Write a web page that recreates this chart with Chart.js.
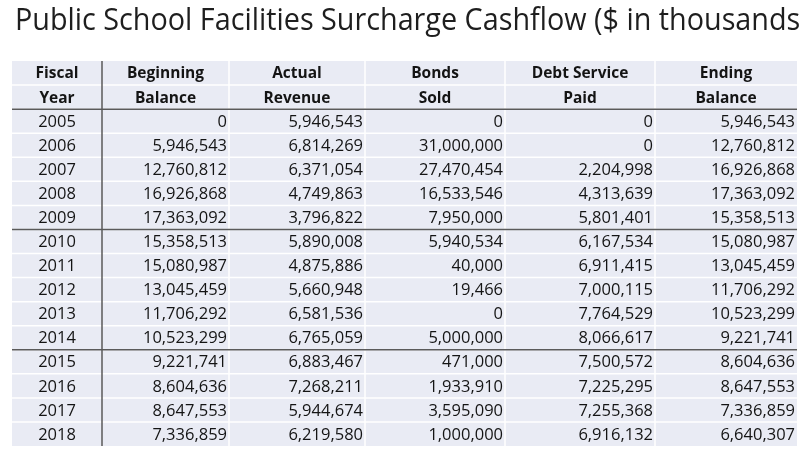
<!DOCTYPE html>
<html>
<head>
<meta charset="utf-8">
<script src="https://cdn.jsdelivr.net/npm/chart.js@4.4.1/dist/chart.umd.min.js"></script>
<style>
  html, body { margin: 0; padding: 0; background: #fff; }
  #wrap { width: 800px; height: 450px; }
</style>
</head>
<body>
<div id="wrap"><canvas id="cashflow"></canvas></div>
<script>
const TITLE = 'Public School Facilities Surcharge Cashflow ($ in thousands)';

const headerTop = ['Fiscal', 'Beginning', 'Actual', 'Bonds', 'Debt Service', 'Ending'];
const headerBottom = ['Year', 'Balance', 'Revenue', 'Sold', 'Paid', 'Balance'];

const years = ['2005', '2006', '2007', '2008', '2009', '2010', '2011', '2012', '2013', '2014', '2015', '2016', '2017', '2018'];
const beginningBalance = [0, 5946543, 12760812, 16926868, 17363092, 15358513, 15080987, 13045459, 11706292, 10523299, 9221741, 8604636, 8647553, 7336859];
const actualRevenue = [5946543, 6814269, 6371054, 4749863, 3796822, 5890008, 4875886, 5660948, 6581536, 6765059, 6883467, 7268211, 5944674, 6219580];
const bondsSold = [0, 31000000, 27470454, 16533546, 7950000, 5940534, 40000, 19466, 0, 5000000, 471000, 1933910, 3595090, 1000000];
const debtServicePaid = [0, 0, 2204998, 4313639, 5801401, 6167534, 6911415, 7000115, 7764529, 8066617, 7500572, 7225295, 7255368, 6916132];
const endingBalance = [5946543, 12760812, 16926868, 17363092, 15358513, 15080987, 13045459, 11706292, 10523299, 9221741, 8604636, 8647553, 7336859, 6640307];

// rows after which a dark rule is drawn
const ruleAfter = ['2009', '2014'];

// layout (table units along x, 0 = left edge of table)
const COL_EDGES = [0, 90, 217, 353, 493, 643, 785];
const CELL_BG = '#e9ebf4';
const TEXT = '#141414';
const RULE = '#5a5a5a';
const FONT = '"Open Sans", "Noto Sans", sans-serif';

const columns = [years, beginningBalance, actualRevenue, bondsSold, debtServicePaid, endingBalance];
const rowLabels = ['head1', 'head2'].concat(years);

const fmt = v => Number(v).toLocaleString('en-US');

// the slide title runs off the right edge, so it is drawn without a max width
const titlePlugin = {
  id: 'titlePlugin',
  afterDraw(chart) {
    const { ctx } = chart;
    ctx.save();
    ctx.fillStyle = '#1e1e1e';
    ctx.font = '30.5px ' + FONT;
    ctx.textAlign = 'left';
    ctx.textBaseline = 'alphabetic';
    ctx.translate(15, 30);
    ctx.scale(0.943, 1);
    ctx.fillText(TITLE, 0, 0);
    ctx.restore();
  }
};

const tablePlugin = {
  id: 'tablePlugin',
  beforeDatasetsDraw(chart) {
    const { ctx, scales: { x, y } } = chart;
    const band = y.getPixelForValue(1) - y.getPixelForValue(0);
    const top = y.getPixelForValue(0) - band / 2;
    const bottom = y.getPixelForValue(rowLabels.length - 1) + band / 2;
    const xs = COL_EDGES.map(e => x.getPixelForValue(e));

    ctx.save();
    // cells
    ctx.fillStyle = CELL_BG;
    ctx.fillRect(xs[0], top, xs[xs.length - 1] - xs[0], bottom - top);

    // white separators
    ctx.strokeStyle = '#ffffff';
    ctx.lineWidth = 1.5;
    for (let r = 1; r < rowLabels.length; r++) {
      const yy = y.getPixelForValue(r) - band / 2;
      ctx.beginPath(); ctx.moveTo(xs[0], yy); ctx.lineTo(xs[xs.length - 1], yy); ctx.stroke();
    }
    for (let c = 2; c < xs.length - 1; c++) {
      ctx.beginPath(); ctx.moveTo(xs[c], top); ctx.lineTo(xs[c], bottom); ctx.stroke();
    }

    // dark rules
    ctx.strokeStyle = RULE;
    ctx.lineWidth = 1.5;
    const hRules = [1].concat(ruleAfter.map(yr => rowLabels.indexOf(yr)));
    hRules.forEach(r => {
      const yy = y.getPixelForValue(r) + band / 2;
      ctx.beginPath(); ctx.moveTo(xs[0], yy); ctx.lineTo(xs[xs.length - 1], yy); ctx.stroke();
    });
    ctx.beginPath(); ctx.moveTo(xs[1], top); ctx.lineTo(xs[1], bottom); ctx.stroke();

    // header
    ctx.fillStyle = TEXT;
    ctx.textBaseline = 'middle';
    ctx.textAlign = 'center';
    ctx.font = 'bold 15.5px ' + FONT;
    headerTop.forEach((t, c) => ctx.fillText(t, (xs[c] + xs[c + 1]) / 2, y.getPixelForValue(0) + 1));
    headerBottom.forEach((t, c) => ctx.fillText(t, (xs[c] + xs[c + 1]) / 2, y.getPixelForValue(1) + 1));

    // body
    ctx.font = '16.5px ' + FONT;
    years.forEach((yr, r) => {
      const yy = y.getPixelForValue(r + 2) + 1;
      columns.forEach((col, c) => {
        if (c === 0) {
          ctx.textAlign = 'center';
          ctx.fillText(col[r], (xs[0] + xs[1]) / 2, yy);
        } else {
          ctx.textAlign = 'right';
          ctx.fillText(fmt(col[r]), xs[c + 1] - 2, yy);
        }
      });
    });
    ctx.restore();
  }
};

new Chart(document.getElementById('cashflow'), {
  type: 'scatter',
  data: { labels: rowLabels, datasets: [] },
  options: {
    responsive: true,
    maintainAspectRatio: false,
    animation: false,
    events: [],
    layout: { padding: { left: 12, right: 3, top: 61, bottom: 4 } },
    plugins: {
      legend: { display: false },
      tooltip: { enabled: false },
      title: { display: false }
    },
    scales: {
      x: { type: 'linear', min: COL_EDGES[0], max: COL_EDGES[COL_EDGES.length - 1], display: false },
      y: { type: 'category', labels: rowLabels, offset: true, display: false }
    }
  },
  plugins: [tablePlugin, titlePlugin]
});
</script>
</body>
</html>
